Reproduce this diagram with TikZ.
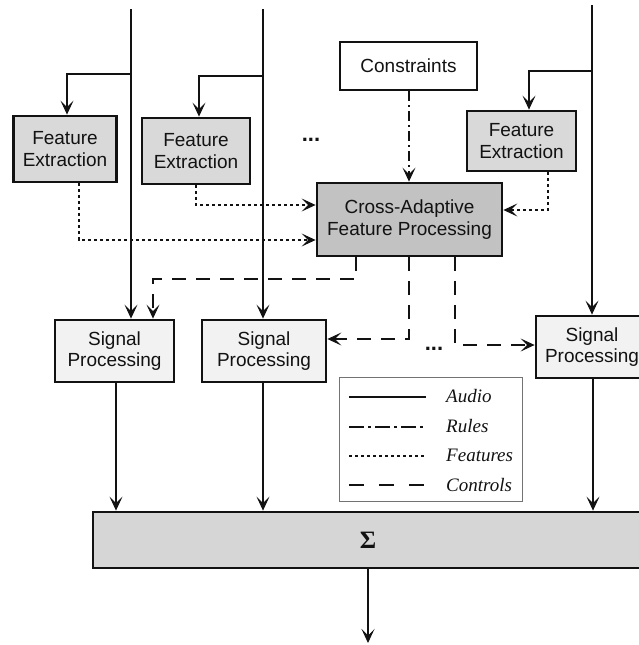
\documentclass[tikz,border=0pt]{standalone}
\usepackage{fontspec}
\setmainfont{Liberation Sans}
\newfontfamily\legfont{Liberation Serif}
\usetikzlibrary{arrows.meta,calc}
\definecolor{fegray}{gray}{0.85}
\definecolor{cagray}{gray}{0.76}
\definecolor{spgray}{gray}{0.95}
\definecolor{sumgray}{gray}{0.84}
\definecolor{ink}{gray}{0.07}
\begin{document}
\begin{tikzpicture}[x=1pt,y=-1pt,
  arr/.style={-{Stealth[length=14pt,width=13pt,inset=6.5pt,line width=1pt]}},
  box/.style={draw=ink, line width=2.8pt, inner sep=0pt, align=center,
    font=\fontsize{19pt}{21.5pt}\selectfont, text=ink},
  febox/.style={box, fill=fegray},
  spbox/.style={box, fill=spgray},
  audio/.style={draw=ink, line width=1.5pt},
  feat/.style={draw=ink, line width=1.5pt, dash pattern=on 3pt off 3pt},
  rules/.style={draw=ink, line width=1.5pt, dash pattern=on 10pt off 4pt on 2pt off 4pt},
  ctrl/.style={draw=ink, line width=1.5pt, dash pattern=on 14pt off 10pt},
  legtext/.style={font=\legfont\itshape\fontsize{19pt}{21pt}\selectfont, text=ink, anchor=west, inner sep=0pt},
  dots/.style={font=\bfseries\fontsize{22pt}{22pt}\selectfont, text=ink, inner sep=0pt}
]
\useasboundingbox (0,0) rectangle (639,645);
\fill[white] (0,0) rectangle (639,645);

% audio inputs at the top
\coordinate (in1) at (131,9);
\coordinate (in2) at (263,9);
\coordinate (in3) at (592,5);
\coordinate (br1) at (131,74);
\coordinate (br2) at (263,76);
\coordinate (br3) at (592,71);

% blocks
\node[febox, minimum width=103pt, minimum height=66pt] (fe1) at (65,149) {Feature\\Extraction};
\node[febox, minimum width=108pt, minimum height=66pt] (fe2) at (196,151) {Feature\\Extraction};
\node[febox, minimum width=109pt, minimum height=60pt] (fe3) at (521.5,141) {Feature\\Extraction};
\node[box, fill=white, minimum width=137pt, minimum height=48pt] (cons) at (408.5,66) {Constraints};
\node[box, fill=cagray, minimum width=185pt, minimum height=73pt] (ca) at (409.5,219.5) {Cross-Adaptive\\Feature Processing};
\node[spbox, minimum width=119pt, minimum height=62pt] (sp1) at (114.5,351) {Signal\\Processing};
\node[spbox, minimum width=124pt, minimum height=62pt] (sp2) at (264,351) {Signal\\Processing};
\node[spbox, minimum width=112pt, minimum height=62pt] (sp3) at (592,347) {Signal\\Processing};
\node[box, fill=sumgray, minimum width=550pt, minimum height=56pt,
      font=\legfont\bfseries\fontsize{25pt}{25pt}\selectfont] (sum) at (368,540) {Σ};

\node[dots] (d1) at (311,140) {...};
\node[dots] (d2) at (434,349) {...};

% audio paths
\draw[audio,arr] (in1) -- (sp1.north -| in1);
\draw[audio,arr] (in2) -- (sp2.north -| in2);
\draw[audio,arr] (in3) -- (sp3.north -| in3);
\draw[audio,arr] (br1) -| (fe1.north -| 67,0);
\draw[audio,arr] (br2) -| (fe2.north -| 199,0);
\draw[audio,arr] (br3) -| (fe3.north -| 529,0);

% rules
\draw[rules,arr] (cons.south -| 409,0) -- (ca.north -| 409,0);

% features
\draw[feat,arr] (fe1.south -| 79,0) |- (ca.west |- 0,240);
\draw[feat,arr] (fe2.south -| 196,0) |- (ca.west |- 0,205);
\draw[feat,arr] (fe3.south -| 548,0) |- (ca.east |- 0,210);

% controls
\draw[ctrl,arr] (ca.south -| 356,0) |- (153,279) -- (sp1.north -| 153,0);
\draw[ctrl,arr] (ca.south -| 409,0) |- (sp2.east |- 0,339);
\draw[ctrl,arr] (ca.south -| 455,0) |- (sp3.west |- 0,345);

% mixing
\draw[audio,arr] (sp1.south -| 116,0) -- (sum.north -| 116,0);
\draw[audio,arr] (sp2.south -| 263,0) -- (sum.north -| 263,0);
\draw[audio,arr] (sp3.south -| 593,0) -- (sum.north -| 593,0);
\coordinate (out) at (368,643);
\draw[audio,arr] (sum.south) -- (out);

% legend
\node[draw=black!55, line width=0.9pt, fill=white, minimum width=183pt, minimum height=124pt, inner sep=0pt] (leg) at (430.5,439) {};
\coordinate (l1a) at (349,397); \coordinate (l1b) at (426,397);
\coordinate (l2a) at (349,427); \coordinate (l2b) at (426,427);
\coordinate (l3a) at (349,456); \coordinate (l3b) at (426,456);
\coordinate (l4a) at (349,485); \coordinate (l4b) at (426,485);
\draw[audio] (l1a) -- (l1b);
\draw[rules, dash pattern=on 15pt off 4pt on 3pt off 4pt] (l2a) -- (l2b);
\draw[feat] (l3a) -- (l3b);
\draw[ctrl, dash pattern=on 15pt off 15pt] (l4a) -- (l4b);
\node[legtext] (t1) at (446,396) {Audio};
\node[legtext] (t2) at (446,426) {Rules};
\node[legtext] (t3) at (446,455) {Features};
\node[legtext] (t4) at (446,485) {Controls};
\end{tikzpicture}
\end{document}
